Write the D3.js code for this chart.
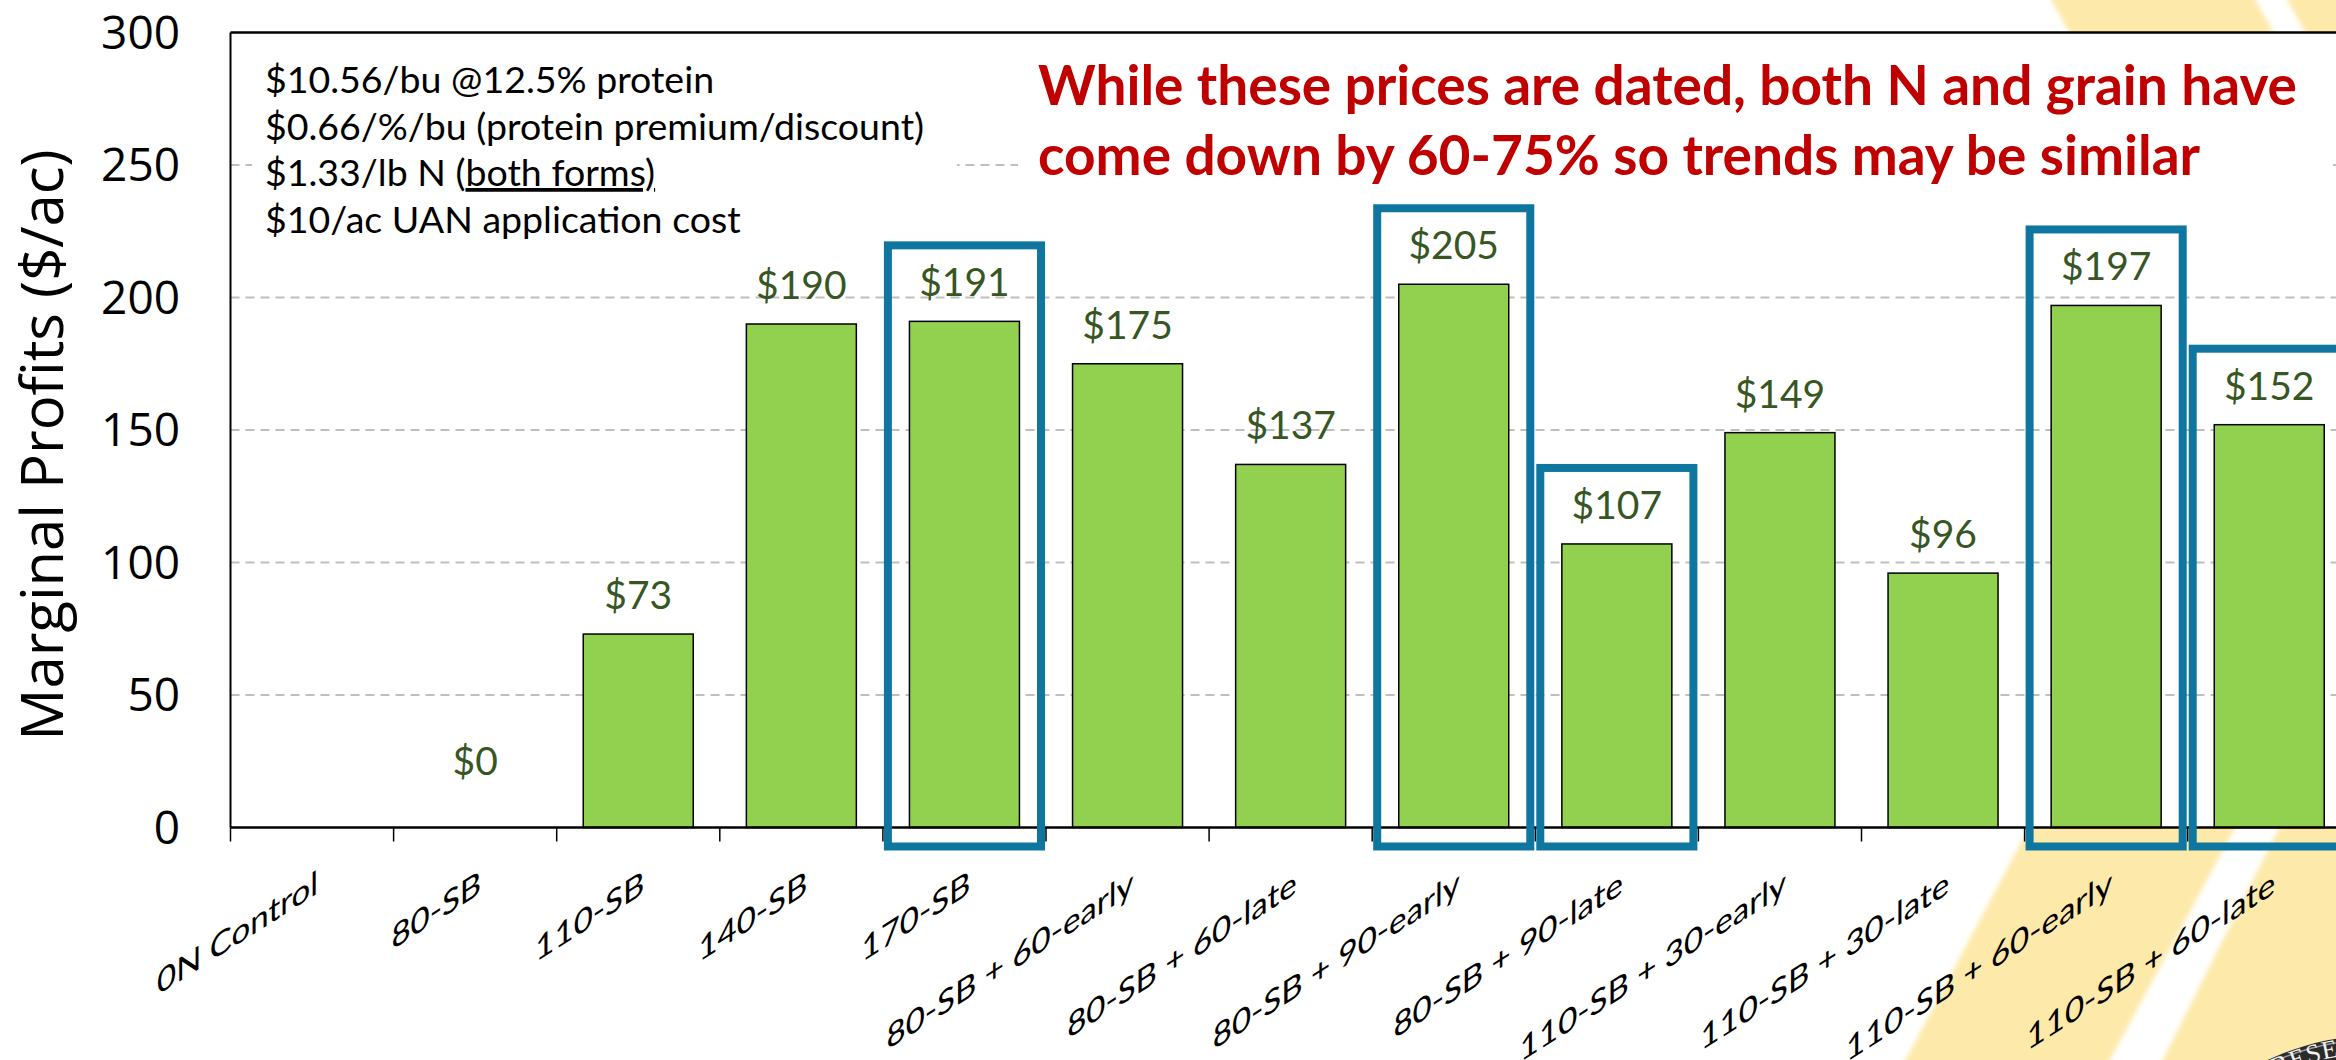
<!DOCTYPE html>
<html>
<head>
<meta charset="utf-8">
<script src="https://cdn.jsdelivr.net/npm/d3@7"></script>
<style>
  html, body { margin: 0; padding: 0; background: #ffffff; }
  svg { display: block; }
</style>
</head>
<body>
<svg id="chart" width="2336" height="1060"></svg>
<script>
// ---- data ----
const categories = [
  "0N Control", "80-SB", "110-SB", "140-SB", "170-SB",
  "80-SB + 60-early", "80-SB + 60-late", "80-SB + 90-early", "80-SB + 90-late",
  "110-SB + 30-early", "110-SB + 30-late", "110-SB + 60-early", "110-SB + 60-late"
];
// marginal profit, $/ac (no value for the unfertilised control)
const profits = [null, 0, 73, 190, 191, 175, 137, 205, 107, 149, 96, 197, 152];
const highlighted = ["170-SB", "80-SB + 90-early", "80-SB + 90-late", "110-SB + 60-early", "110-SB + 60-late"];
const yTicks = [0, 50, 100, 150, 200, 250, 300];
const gridTicks = [50, 100, 150, 200, 250];
const yTitle = "Marginal Profits ($/ac)";
const priceNotes = [
  [{ t: "$10.56/bu @12.5% protein" }],
  [{ t: "$0.66/%/bu (protein premium/discount)" }],
  [{ t: "$1.33/lb N (" }, { t: "both forms)", u: true }],
  [{ t: "$10/ac UAN application cost" }]
];
const message = [
  "While these prices are dated, both N and grain have",
  "come down by 60-75% so trends may be similar"
];

// ---- layout ----
const W = 2336, H = 1060;
const plot = { left: 230.5, right: 2350.8, top: 32.5, bottom: 827.5 };
const svg = d3.select("#chart");

const x = d3.scaleBand()
  .domain(categories)
  .range([plot.left, plot.right])
  .paddingInner(0.3256)
  .paddingOuter(0.1628);
const y = d3.scaleLinear().domain([0, 300]).range([plot.bottom, plot.top]);
const step = x.step();
const bandStart = c => x(c) - (step - x.bandwidth()) / 2;

// ---- slide backdrop: soft yellow bands on the right ----
const defs = svg.append("defs");
defs.append("filter").attr("id", "soft")
  .attr("x", "-10%").attr("y", "-10%").attr("width", "120%").attr("height", "120%")
  .append("feGaussianBlur").attr("stdDeviation", 2.5);

const bands = [
  [[2150, 600], [1895, 1080], [2099, 1080], [2358, 600]],
  [[2393, 600], [2153, 1080], [2420, 1080], [2420, 600]],
  [[2040, -20], [2085, 60], [2289, 60], [2244, -20]],
  [[2276, -20], [2321, 60], [2420, 60], [2420, -20]]
];
svg.append("g").attr("filter", "url(#soft)")
  .selectAll("polygon").data(bands).join("polygon")
  .attr("points", d => d.map(p => p.join(",")).join(" "))
  .attr("fill", "#fde9a9");

// seal in the corner
const seal = svg.append("g");
seal.append("circle").attr("cx", 2380).attr("cy", 1300).attr("r", 265).attr("fill", "#2b2b2b");
seal.append("circle").attr("cx", 2380).attr("cy", 1300).attr("r", 261)
  .attr("fill", "none").attr("stroke", "#9a9a9a").attr("stroke-width", 1.5);
const rr = 247;
defs.append("path").attr("id", "sealArc")
  .attr("d", `M ${2380 - rr} 1300 A ${rr} ${rr} 0 1 1 ${2380 + rr} 1300 A ${rr} ${rr} 0 1 1 ${2380 - rr} 1300`);
seal.append("text")
  .attr("font-family", "'Liberation Serif', 'DejaVu Serif', serif")
  .attr("font-size", 26).attr("fill", "#f2f2f2").attr("letter-spacing", 1)
  .append("textPath").attr("href", "#sealArc").attr("startOffset", 280)
  .text("RESEARCH");

// ---- plot area ----
svg.append("rect")
  .attr("x", plot.left).attr("y", plot.top)
  .attr("width", W - plot.left).attr("height", plot.bottom - plot.top)
  .attr("fill", "#ffffff");

svg.append("g").selectAll("line").data(gridTicks).join("line")
  .attr("x1", plot.left).attr("x2", W)
  .attr("y1", d => y(d)).attr("y2", d => y(d))
  .attr("stroke", "#bfbfbf").attr("stroke-width", 2)
  .attr("stroke-dasharray", "9,6");

// ---- text boxes ----
svg.append("rect").attr("x", 252).attr("y", 45).attr("width", 705).attr("height", 205).attr("fill", "#fff");
const notes = svg.append("text")
  .attr("font-family", "Lato, 'Open Sans', sans-serif")
  .attr("font-size", 37.5).attr("fill", "#000");
priceNotes.forEach((line, i) => {
  line.forEach((seg, j) => {
    const ts = notes.append("tspan").text(seg.t);
    if (j === 0) ts.attr("x", 265).attr("y", 93 + i * 46.5);
    if (seg.u) ts.attr("text-decoration", "underline");
  });
});

svg.append("rect").attr("x", 1018).attr("y", 50).attr("width", 1315).attr("height", 145).attr("fill", "#fff");
svg.append("g").selectAll("text").data(message).join("text")
  .attr("x", 1038).attr("y", (d, i) => 105 + i * 70)
  .attr("font-family", "Lato, 'Open Sans', sans-serif")
  .attr("font-weight", 700).attr("font-size", 55)
  .attr("fill", "#c00000")
  .text(d => d);

// ---- bars ----
const rows = categories.map((c, i) => ({ c, v: profits[i] }));
svg.append("g").selectAll("rect").data(rows.filter(d => d.v !== null && d.v > 0)).join("rect")
  .attr("x", d => x(d.c)).attr("width", x.bandwidth())
  .attr("y", d => y(d.v)).attr("height", d => y(0) - y(d.v))
  .attr("fill", "#92d050").attr("stroke", "#000").attr("stroke-width", 1.5);

// value labels sit just above the bar end; a zero value is lifted clear of the axis
svg.append("g").selectAll("text").data(rows.filter(d => d.v !== null)).join("text")
  .attr("x", d => x(d.c) + x.bandwidth() / 2)
  .attr("y", d => y(d.v) - (d.v === 0 ? 53 : 25))
  .attr("text-anchor", "middle")
  .attr("font-family", "Lato, 'Open Sans', sans-serif")
  .attr("font-size", 39).attr("fill", "#375623")
  .text(d => "$" + d3.format("d")(d.v));

// ---- axes ----
const axes = svg.append("g").attr("stroke", "#000");
axes.append("line").attr("x1", plot.left).attr("x2", W).attr("y1", plot.top).attr("y2", plot.top).attr("stroke-width", 2.5);
axes.append("line").attr("x1", plot.left).attr("x2", plot.left).attr("y1", plot.top).attr("y2", plot.bottom).attr("stroke-width", 2);
axes.append("line").attr("x1", plot.left).attr("x2", W).attr("y1", y(0)).attr("y2", y(0)).attr("stroke-width", 2.5);
axes.selectAll(".tick").data(d3.range(categories.length + 1)).join("line")
  .attr("class", "tick")
  .attr("x1", i => x.range()[0] + i * step).attr("x2", i => x.range()[0] + i * step)
  .attr("y1", y(0)).attr("y2", y(0) + 14)
  .attr("stroke-width", 1.5);

svg.append("g").selectAll("text").data(yTicks).join("text")
  .attr("x", 180).attr("y", d => y(d)).attr("dy", "0.357em")
  .attr("text-anchor", "end")
  .attr("font-family", "'Open Sans', 'Noto Sans', sans-serif")
  .attr("font-size", 46).attr("fill", "#000")
  .text(d => d);

svg.append("text")
  .attr("transform", `translate(63, 445) rotate(-90)`)
  .attr("text-anchor", "middle")
  .attr("font-family", "'Open Sans', 'Noto Sans', sans-serif")
  .attr("font-size", 58).attr("fill", "#000")
  .text(yTitle);

// slanted category labels: the baseline climbs to the right while glyph stems stay upright
svg.append("g").selectAll("text").data(categories).join("text")
  .attr("transform", c => `translate(${x(c) + x.bandwidth() / 2 + 6}, 893) skewY(-32.5)`)
  .attr("text-anchor", "end")
  .attr("font-family", "Lato, 'Open Sans', sans-serif")
  .attr("font-size", 33).attr("fill", "#000")
  .text(c => c);

// ---- highlight frames ----
svg.append("g").selectAll("rect").data(rows.filter(d => highlighted.includes(d.c))).join("rect")
  .attr("x", d => bandStart(d.c) + 5)
  .attr("width", step - 10)
  .attr("y", d => y(d.v) - 76)
  .attr("height", d => (y(0) + 19) - (y(d.v) - 76))
  .attr("fill", "none")
  .attr("stroke", "#0f76a0").attr("stroke-width", 8);
</script>
</body>
</html>
